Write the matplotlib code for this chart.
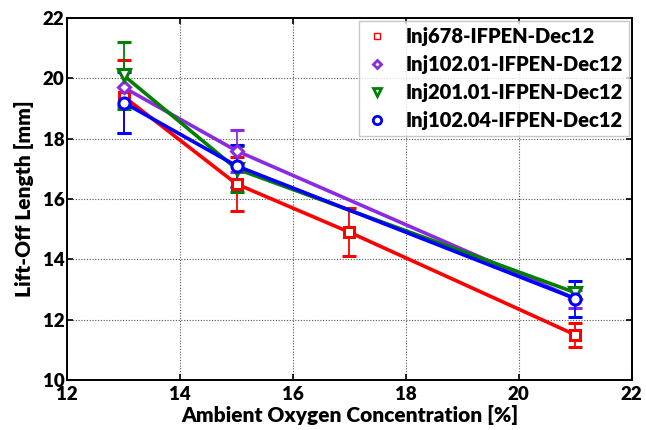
import matplotlib
matplotlib.use("Agg")
import matplotlib.pyplot as plt

# Ambient oxygen concentration [%] and measured lift-off length [mm]
x_678 = [13, 15, 17, 21]
y_678 = [19.4, 16.5, 14.9, 11.5]
e_678 = [1.2, 0.9, 0.8, 0.4]

x_10201 = [13, 15, 21]
y_10201 = [19.7, 17.6, 12.7]
e_10201 = [0.6, 0.7, 0.3]

x_20101 = [13, 15, 21]
y_20101 = [20.1, 17.0, 12.9]
e_20101 = [1.1, 0.75, 0.2]

x_10204 = [13, 15, 21]
y_10204 = [19.2, 17.1, 12.7]
e_10204 = [1.0, 0.7, 0.6]

labels = ["Inj678-IFPEN-Dec12", "Inj102.01-IFPEN-Dec12",
          "Inj201.01-IFPEN-Dec12", "Inj102.04-IFPEN-Dec12"]

plt.rcParams['font.family'] = ['Lato', 'DejaVu Sans']

fig = plt.figure(figsize=(6.46, 4.30), dpi=100)
ax = fig.add_axes([0.104, 0.116, 0.874, 0.842])

series = [
    (x_678, y_678, e_678, '#ff0000', 's', 6.5),
    (x_10201, y_10201, e_10201, '#8a2be2', 'D', 6.0),
    (x_20101, y_20101, e_20101, '#007f00', 'v', 8.0),
    (x_10204, y_10204, e_10204, '#0000ff', 'o', 8.0),
]

handles = []
for (xs, ys, es, c, m, ms), lab in zip(series, labels):
    ax.errorbar(xs, ys, yerr=es, color=c, lw=2.6, elinewidth=1.3,
                capsize=5, capthick=1.3, marker=m, ms=ms, mfc='white',
                mec=c, mew=2.2, zorder=3)
    h, = ax.plot([], [], ls='none', marker=m, color=c, mfc='white',
                 mec=c, mew=2.0 if m != 's' else 1.0, ms=ms * 0.75)
    handles.append(h)

ax.set_xlim(12, 22)
ax.set_ylim(10, 22)
ax.set_xticks(range(12, 23, 2))
ax.set_yticks(range(10, 23, 2))
ax.grid(True, color='#555555', ls=(0, (1, 1.5)), lw=0.8)
ax.set_axisbelow(True)
ax.tick_params(direction='in', top=True, right=True, length=4, width=1.2,
               labelsize=13.5)
ax.tick_params(axis='x', pad=4.5)
ax.tick_params(axis='y', pad=2)
for t in ax.get_xticklabels() + ax.get_yticklabels():
    t.set_fontweight('heavy')
for s in ax.spines.values():
    s.set_linewidth(1.4)

ax.set_xlabel("Ambient Oxygen Concentration [%]", fontsize=15,
              fontweight='heavy', labelpad=1)
ax.set_ylabel("Lift-Off Length [mm]", fontsize=15, fontweight='heavy',
              labelpad=6)

leg = ax.legend(handles, labels, loc='upper right',
                prop={'weight': 'heavy', 'size': 14.5}, frameon=True,
                fancybox=False, borderaxespad=0.15, handlelength=1.2,
                handletextpad=0.8, labelspacing=0.45, borderpad=0.3)
leg.get_frame().set_edgecolor('#bbbbbb')
leg.get_frame().set_linewidth(1.0)

fig.savefig("out.png", dpi=100)
